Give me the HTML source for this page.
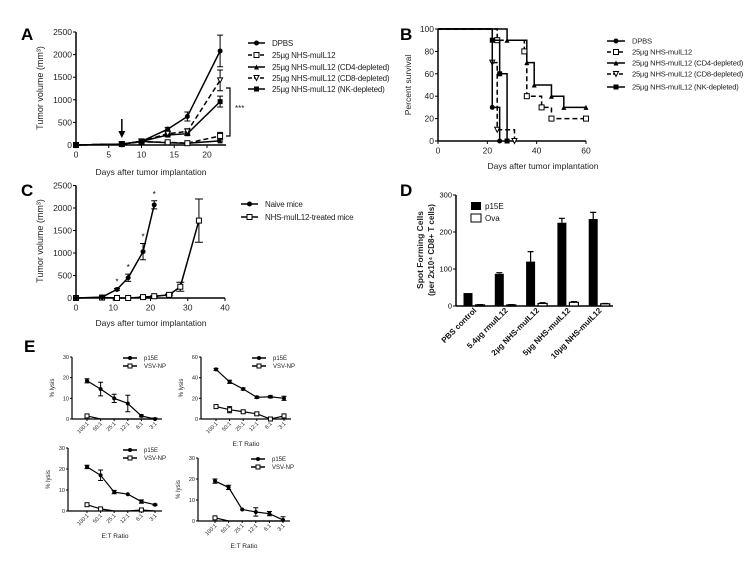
<!DOCTYPE html>
<html><head><meta charset="utf-8">
<style>
html,body{margin:0;padding:0;background:#fff;}
svg{display:block;font-family:"Liberation Sans",Arial,sans-serif;}
</style></head>
<body>
<svg id="fig" width="751" height="562" viewBox="0 0 751 562" xmlns="http://www.w3.org/2000/svg">
<g id="root"></g>
</svg>
<script>
// ---------- Panel A data ----------
const aDays = [0, 7, 10, 14, 17, 22];
const aDPBS = [0, 20, 80, 350, 630, 2080];
const aDPBSErr = [0, 0, 10, 40, 100, 350];
const aNHS = [0, 20, 70, 60, 40, 200];
const aNHSErr = [0, 0, 10, 10, 10, 80];
const aCD4 = [0, 20, 80, 50, 40, 90];
const aCD4Err = [0, 0, 10, 10, 10, 20];
const aCD8 = [0, 20, 80, 250, 300, 1430];
const aCD8Err = [0, 0, 10, 40, 60, 230];
const aNK = [0, 20, 80, 220, 250, 960];
const aNKErr = [0, 0, 10, 40, 40, 120];
const aYTicks = [0, 500, 1000, 1500, 2000, 2500];
const aXTicks = [0, 5, 10, 15, 20];
// ---------- Panel B data ----------
const bDPBST = [0, 22, 25];        const bDPBS = [100, 30, 0];
const bNHST = [0, 24, 35, 36, 42, 46, 60]; const bNHS = [100, 90, 80, 40, 30, 20, 20];
const bCD4T = [0, 28, 36, 39, 46, 51, 60]; const bCD4 = [100, 90, 70, 50, 40, 30, 30];
const bCD8T = [0, 22, 24, 31];     const bCD8 = [100, 70, 10, 0];
const bNKT = [0, 22, 25, 28];      const bNK = [100, 90, 60, 0];
const bYTicks = [0, 20, 40, 60, 80, 100];
const bXTicks = [0, 20, 40, 60];
// ---------- Panel C data ----------
const cNaiveDays = [0, 7, 11, 14, 18, 21];
const cNaive = [0, 20, 190, 450, 1030, 2070];
const cNaiveErr = [0, 0, 20, 80, 180, 90];
const cTreatDays = [0, 7, 11, 14, 18, 21, 25, 28, 33];
const cTreat = [0, 10, 0, 0, 20, 40, 70, 250, 1720];
const cTreatErr = [0, 0, 0, 0, 10, 10, 20, 100, 480];
const cYTicks = [0, 500, 1000, 1500, 2000, 2500];
const cXTicks = [0, 10, 20, 30, 40];
// ---------- Panel D data ----------
const dGroups = ["PBS control", "5.4µg rmuIL12", "2µg NHS-muIL12", "5µg NHS-muIL12", "10µg NHS-muIL12"];
const dP15E = [35, 87, 120, 225, 235];
const dP15EErr = [0, 3, 27, 12, 18];
const dOva = [3, 3, 7, 10, 6];
const dOvaErr = [1, 1, 2, 2, 1];
const dYTicks = [0, 100, 200, 300];
// ---------- Panel E data ----------
const eRatios = ["100:1", "50:1", "25:1", "12:1", "6:1", "3:1"];
const e1P15E = [18.5, 14.5, 10, 7.5, 1.5, 0];   const e1P15EErr = [1, 3.3, 2, 4, 0.5, 0.5];
const e1VSV = [1.5, 0, 0, 0, 0, 0];
const e2P15E = [48, 36, 29, 21, 21.5, 20];      const e2P15EErr = [1, 1.5, 1, 1, 1, 2];
const e2VSV = [12, 9, 7, 5, 0, 3];              const e2VSVErr = [1, 3, 1, 1, 0, 1];
const e3P15E = [21, 17, 9, 8, 4.5, 3];          const e3P15EErr = [0.8, 2.5, 0.8, 0, 0.8, 0.3];
const e3VSV = [3, 1, 0, 0, 0.5, 0];
const e4P15E = [19, 16, 5.5, 4.3, 3.5, 0.5];    const e4P15EErr = [1, 1, 0, 2, 1, 1.5];
const e4VSV = [1.5, 0, 0, 0, 0, 0];
const eYTicks30 = [0, 10, 20, 30];
const eYTicks60 = [0, 20, 40, 60];

const NS = "http://www.w3.org/2000/svg";
const root = document.getElementById('root');
function mk(tag, attrs, parent, text) {
  const e = document.createElementNS(NS, tag);
  for (const k in attrs) e.setAttribute(k, attrs[k]);
  if (text !== undefined) e.textContent = text;
  (parent || root).appendChild(e);
  return e;
}
function lin(d0, d1, r0, r1) { return v => r0 + (v - d0) * (r1 - r0) / (d1 - d0); }

function marker(g, type, x, y, s) {
  let m;
  if (type === 'circle') m = mk('circle', {cx: x, cy: y, r: s * 0.5, fill: '#000'}, g);
  else if (type === 'sqfill') m = mk('rect', {x: x - s/2, y: y - s/2, width: s, height: s, fill: '#000'}, g);
  else if (type === 'sqopen') m = mk('rect', {x: x - s/2, y: y - s/2, width: s, height: s, fill: '#fff', stroke: '#000', 'stroke-width': 1}, g);
  else if (type === 'triup') m = mk('polygon', {points: `${x},${y-s/2} ${x-s/2},${y+s/2} ${x+s/2},${y+s/2}`, fill: '#000'}, g);
  else if (type === 'tridown') m = mk('polygon', {points: `${x-s/2},${y-s/2} ${x+s/2},${y-s/2} ${x},${y+s/2}`, fill: '#fff', stroke: '#000', 'stroke-width': 1}, g);
  
  
  return m;
}

function axes(g, o) {
  mk('line', {x1: o.x0, y1: o.y0, x2: o.x0, y2: o.y1, stroke: '#000', 'stroke-width': o.sw || 1.5}, g);
  mk('line', {x1: o.x0, y1: o.y0, x2: o.x1, y2: o.y0, stroke: '#000', 'stroke-width': o.sw || 1.5}, g);
  const tl = o.tl || 3;
  o.yTicks.forEach(v => {
    const y = o.yScale(v);
    mk('line', {x1: o.x0 - tl, y1: y, x2: o.x0, y2: y, stroke: '#000', 'stroke-width': 1}, g);
    const t = mk('text', {x: o.x0 - tl - 1, y: y + o.fs * 0.35, 'font-size': o.fs, 'text-anchor': 'end', fill: o.tc || '#222'}, g, v);
    
    
  });
  if (o.xTicks) o.xTicks.forEach(v => {
    const x = o.xScale(v);
    mk('line', {x1: x, y1: o.y0, x2: x, y2: o.y0 + tl, stroke: '#000', 'stroke-width': 1}, g);
    const t = mk('text', {x: x, y: o.y0 + tl + o.fs + 1, 'font-size': o.fs, 'text-anchor': 'middle', fill: o.tc || '#222'}, g, v);
    
    
  });
  if (o.xCats) o.xCats.forEach((c, i) => {
    const x = o.xScale(i);
    mk('line', {x1: x, y1: o.y0, x2: x, y2: o.y0 + tl, stroke: '#000', 'stroke-width': 1}, g);
    const t = mk('text', {x: x + 2, y: o.y0 + tl + 3, 'font-size': o.fs, 'text-anchor': 'end', fill: o.tc || '#222',
      transform: `rotate(-45 ${x + 2} ${o.y0 + tl + 3})`}, g, c);
    
    
  });
}

function series(g, xs, ys, errs, xS, yS, o) {
  const pts = xs.map((x, i) => [xS(x), yS(ys[i])]);
  const p = mk('polyline', {points: pts.map(q => q.join(',')).join(' '), fill: 'none', stroke: '#000', 'stroke-width': o.lw || 1.5, 'stroke-dasharray': o.dash || 'none'}, g);
  
  
  if (errs) errs.forEach((e, i) => {
    if (!e) return;
    const x = pts[i][0], yt = yS(ys[i] + e), yb = yS(Math.max(0, ys[i] - e)), c = o.cap || 3;
    mk('path', {d: `M${x},${yt}V${yb}M${x-c},${yt}H${x+c}M${x-c},${yb}H${x+c}`, stroke: '#000', 'stroke-width': 1, fill: 'none'}, g);
  });
  pts.forEach((q, i) => { if (o.skipZero && ys[i] === 0) return; marker(g, o.marker, q[0], q[1], o.ms || 5); });
}

function legendRow(g, x, y, len, type, dash, label, fs, ms) {
  const lg = mk('g', {}, g);
  
  
  mk('line', {x1: x, y1: y, x2: x + len, y2: y, stroke: '#000', 'stroke-width': 1.5, 'stroke-dasharray': dash || 'none'}, lg);
  marker(lg, type, x + len / 2, y, ms || 5);
  mk('text', {x: x + len + 7, y: y + fs * 0.35, 'font-size': fs, fill: '#222', 'letter-spacing': fs > 7 ? '-0.2' : '0'}, lg, label);
}

function panelLetter(ch, x, y) {
  const t = mk('text', {x: x, y: y, 'font-size': 17, 'font-weight': 'bold', fill: '#000'}, root, ch);
  
  
}
function label(txt, x, y, fs, rot, name, bold) {
  const t = mk('text', {x: x, y: y, 'font-size': fs, 'text-anchor': 'middle', fill: '#222', 'font-weight': bold ? 'bold' : 'normal', transform: rot ? `rotate(-90 ${x} ${y})` : ''}, root, txt);
  
  
  return t;
}

// ================= Panel A =================
(function () {
  const g = mk('g', {});  
  const xS = lin(0, 20, 76, 207), yS = lin(0, 2500, 145, 32);
  axes(g, {x0: 76, x1: 226, y0: 145, y1: 32, yTicks: aYTicks, yScale: yS, xTicks: aXTicks, xScale: xS, fs: 8.5});
  series(g, aDays, aCD4, aCD4Err, xS, yS, {name: 'cd4', marker: 'triup'});
  series(g, aDays, aNHS, aNHSErr, xS, yS, {name: 'nhs', marker: 'sqopen', dash: '5,3'});
  series(g, aDays, aNK, aNKErr, xS, yS, {name: 'nk', marker: 'sqfill'});
  series(g, aDays, aCD8, aCD8Err, xS, yS, {name: 'cd8', marker: 'tridown', dash: '5,3'});
  series(g, aDays, aDPBS, aDPBSErr, xS, yS, {name: 'dpbs', marker: 'circle'});
  const ax = xS(7);
  mk('path', {d: `M${ax},119V135`, stroke: '#000', 'stroke-width': 1.5}, g);
  mk('polygon', {points: `${ax-3.5},131 ${ax+3.5},131 ${ax},138`, fill: '#000'}, g);
  mk('path', {d: `M226,88H230V136H226`, stroke: '#000', 'stroke-width': 1.2, fill: 'none'}, g);
  mk('text', {x: 235, y: 111, 'font-size': 8, fill: '#222'}, g, '***');
  const L = [['circle', '', 'DPBS'], ['sqopen', '4,2', '25µg NHS-muIL12'], ['triup', '', '25µg NHS-muIL12 (CD4-depleted)'], ['tridown', '4,2', '25µg NHS-muIL12 (CD8-depleted)'], ['sqfill', '', '25µg NHS-muIL12 (NK-depleted)']];
  [43, 55, 67, 78, 89].forEach((y, i) => legendRow(g, 248, y, 17, L[i][0], L[i][1], L[i][2], 8));
})();
panelLetter('A', 21, 40);
label('Tumor volume (mm³)', 43, 88, 9, true, 'y-axis-title-a');
label('Days after tumor implantation', 151, 175, 8.5, false, 'x-axis-title-a');

// ================= Panel B =================
(function () {
  const g = mk('g', {});  
  const xS = lin(0, 60, 438, 586), yS = lin(0, 100, 141, 29);
  axes(g, {x0: 438, x1: 586, y0: 141, y1: 29, yTicks: bYTicks, yScale: yS, xTicks: bXTicks, xScale: xS, fs: 8.5});
  function step(ts, vs, o) {
    let d = `M${xS(ts[0])},${yS(vs[0])}`;
    for (let i = 1; i < ts.length; i++) d += `H${xS(ts[i])}V${yS(vs[i])}`;
    const p = mk('path', {d: d, fill: 'none', stroke: '#000', 'stroke-width': 1.5, 'stroke-dasharray': o.dash || 'none'}, g);
    
    
    for (let i = 1; i < ts.length; i++) marker(g, o.marker, xS(ts[i]), yS(vs[i]), 5);
  }
  step(bCD4T, bCD4, {name: 'cd4', marker: 'triup'});
  step(bNHST, bNHS, {name: 'nhs', marker: 'sqopen', dash: '5,3'});
  step(bCD8T, bCD8, {name: 'cd8', marker: 'tridown', dash: '5,3'});
  step(bNKT, bNK, {name: 'nk', marker: 'sqfill'});
  step(bDPBST, bDPBS, {name: 'dpbs', marker: 'circle'});
  const L = [['circle', '', 'DPBS'], ['sqopen', '4,2', '25µg NHS-muIL12'], ['triup', '', '25µg NHS-muIL12 (CD4-depleted)'], ['tridown', '4,2', '25µg NHS-muIL12 (CD8-depleted)'], ['sqfill', '', '25µg NHS-muIL12 (NK-depleted)']];
  [41, 52, 63, 74, 87].forEach((y, i) => legendRow(g, 607, y, 18, L[i][0], L[i][1], L[i][2], 7.6));
})();
panelLetter('B', 400, 40);
label('Percent survival', 411, 85, 8.5, true, 'y-axis-title-b');
label('Days after tumor implantation', 543, 169, 8.5, false, 'x-axis-title-b');

// ================= Panel C =================
(function () {
  const g = mk('g', {});  
  const xS = lin(0, 40, 76, 225), yS = lin(0, 2500, 298, 185.5);
  axes(g, {x0: 76, x1: 225, y0: 298, y1: 185.5, yTicks: cYTicks, yScale: yS, xTicks: cXTicks, xScale: xS, fs: 8.5});
  series(g, cTreatDays, cTreat, cTreatErr, xS, yS, {name: 'treated', marker: 'sqopen', cap: 4});
  series(g, cNaiveDays, cNaive, cNaiveErr, xS, yS, {name: 'naive', marker: 'circle'});
  cNaiveDays.forEach((d, i) => {
    if (i < 2) return;
    mk('text', {x: xS(d), y: yS(cNaive[i] + cNaiveErr[i]) - 4, 'font-size': 8, 'text-anchor': 'middle', fill: '#000'}, g, '*');
  });
  legendRow(g, 241, 204, 17, 'circle', '', 'Naive mice', 8);
  legendRow(g, 241, 217, 17, 'sqopen', '', 'NHS-muIL12-treated mice', 8);
})();
panelLetter('C', 21, 196);
label('Tumor volume (mm³)', 43, 241, 9, true, 'y-axis-title-c');
label('Days after tumor implantation', 151, 326, 8.5, false, 'x-axis-title-c');

// ================= Panel D =================
(function () {
  const g = mk('g', {});  
  const yS = lin(0, 300, 306, 195);
  const gx = i => 468 + i * 31.3;
  axes(g, {x0: 456, x1: 613, y0: 306, y1: 195, yTicks: dYTicks, yScale: yS, fs: 7.5, tc: '#000'});
  dGroups.forEach((n, i) => {
    const bx = gx(i);
    const b1 = mk('rect', {x: bx - 4.5, y: yS(dP15E[i]), width: 9, height: 306 - yS(dP15E[i]), fill: '#000'}, g);
    
    
    if (dP15EErr[i]) mk('path', {d: `M${bx},${yS(dP15E[i])}V${yS(dP15E[i] + dP15EErr[i])}M${bx-3},${yS(dP15E[i] + dP15EErr[i])}H${bx+3}`, stroke: '#000', 'stroke-width': 1.2}, g);
    const ox = bx + 12;
    mk('path', {d: `M${ox},${yS(dOva[i])}V${yS(dOva[i] + dOvaErr[i])}M${ox-3},${yS(dOva[i] + dOvaErr[i])}H${ox+3}`, stroke: '#000', 'stroke-width': 1}, g);
    const b2 = mk('rect', {x: ox - 4.5, y: yS(dOva[i]), width: 9, height: 306 - yS(dOva[i]), fill: '#fff', stroke: '#000', 'stroke-width': 1.2}, g);
    
    
    const tx = bx + 9, ty = 311;
    const t = mk('text', {x: tx, y: ty, 'font-size': 8, 'font-weight': 'bold', 'text-anchor': 'end', fill: '#111', transform: `rotate(-45 ${tx} ${ty})`}, g, n);
    
    
  });
  const l1 = mk('g', {}, g);  
  mk('rect', {x: 471, y: 202, width: 10, height: 8, fill: '#000'}, l1);
  mk('text', {x: 485, y: 209, 'font-size': 8, fill: '#111'}, l1, 'p15E');
  const l2 = mk('g', {}, g);  
  mk('rect', {x: 471, y: 214, width: 10, height: 8, fill: '#fff', stroke: '#000'}, l2);
  mk('text', {x: 485, y: 221, 'font-size': 8, fill: '#111'}, l2, 'Ova');
})();
panelLetter('D', 400, 196);
label('Spot Forming Cells', 423, 250, 8.5, true, 'y-axis-title-d', true);
label('(per 2x10⁴ CD8+ T cells)', 434, 250, 8, true, 'y-axis-subtitle-d', true);

// ================= Panel E =================
function ePanel(name, x0, y0, x100, x3, yTop, yTicks, ymax, p15, p15Err, vsv, vsvErr, legY, showX, xlabY, skipZero) {
  const g = mk('g', {});  
  const xS = lin(0, 5, x100, x3), yS = lin(0, ymax, y0, yTop);
  axes(g, {x0: x0, x1: x3 + 7, y0: y0, y1: yTop, yTicks: yTicks, yScale: yS, xCats: eRatios, xScale: xS, fs: 5.5, sw: 1.2, tl: 2});
  const idx = eRatios.map((r, i) => i);
  series(g, idx, vsv, vsvErr, xS, yS, {name: 'vsv-np', marker: 'sqopen', ms: 4, lw: 1.2, cap: 2.5, skipZero: skipZero});
  series(g, idx, p15, p15Err, xS, yS, {name: 'p15e', marker: 'circle', ms: 4, lw: 1.2, cap: 2.5});
  legendRow(g, x100 + 36, legY, 14, 'circle', '', 'p15E', 6, 4);
  legendRow(g, x100 + 36, legY + 8, 14, 'sqopen', '', 'VSV-NP', 6, 4);
  label('% lysis', x0 - 18, (y0 + yTop) / 2, 6, true, 'y-axis-title-e');
  if (showX) label('E:T Ratio', (x0 + x3 + 7) / 2, xlabY, 6.5, false, 'x-axis-title-e');
}
ePanel('panel-e1-chart', 72, 419, 87, 155, 357, eYTicks30, 30, e1P15E, e1P15EErr, e1VSV, null, 358, false, 0, true);
ePanel('panel-e2-chart', 201, 419, 216, 284, 357, eYTicks60, 60, e2P15E, e2P15EErr, e2VSV, e2VSVErr, 358, true, 446, false);
ePanel('panel-e3-chart', 68, 511, 87, 155, 448, eYTicks30, 30, e3P15E, e3P15EErr, e3VSV, null, 450, true, 538, true);
ePanel('panel-e4-chart', 198, 521, 215, 283, 458, eYTicks30, 30, e4P15E, e4P15EErr, e4VSV, null, 459, true, 548, true);
panelLetter('E', 24, 352);
</script>
</body></html>
